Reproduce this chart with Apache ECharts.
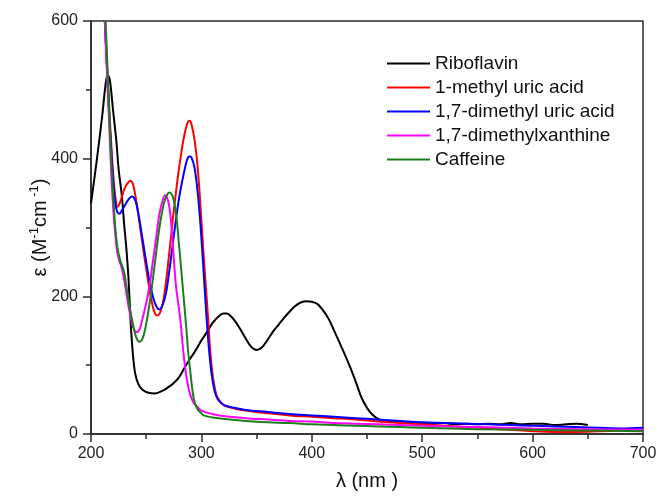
<!DOCTYPE html>
<html>
<head>
<meta charset="utf-8">
<script src="https://cdn.jsdelivr.net/npm/echarts@6/dist/echarts.min.js"></script>
<style>
  html, body { margin: 0; padding: 0; background: #fff; }
  #chart { width: 661px; height: 501px; }
</style>
</head>
<body>
<div id="chart"></div>
<script>
// UV-Vis absorption spectra: molar absorptivity vs wavelength

const seriesNames = ['Riboflavin', '1-methyl uric acid', '1,7-dimethyl uric acid', '1,7-dimethylxanthine', 'Caffeine'];
const seriesColors = ['#000000', '#ff0000', '#0000ff', '#ff00ff', '#1b7f1b'];

const xTicks = [200, 300, 400, 500, 600, 700];
const yTicks = [0, 200, 400, 600];

// Riboflavin
const riboWl  = [200, 205, 210, 213, 215, 217, 220, 223, 225, 228, 230, 232, 234, 236, 238, 240, 243, 247, 252, 258, 265, 270, 275, 280, 285, 290, 295, 300, 305, 310, 315, 320, 323, 326, 330, 335, 340, 345, 350, 355, 360, 365, 370, 375, 380, 385, 390, 395, 400, 405, 410, 415, 420, 425, 430, 435, 440, 445, 450, 455, 460, 465, 470, 480, 490, 500, 510, 520, 530, 540, 550, 560, 570, 580, 590, 600, 610, 620, 630, 640, 650];
const riboEps = [335, 395, 460, 505, 522, 515, 470, 425, 385, 345, 305, 270, 225, 160, 115, 88, 72, 64, 60, 59, 63, 68, 74, 83, 97, 110, 122, 136, 148, 161, 170, 175, 175, 172, 165, 153, 139, 127, 122, 126, 137, 149, 159, 169, 178, 186, 191, 193, 192, 189, 180, 168, 151, 133, 115, 96, 75, 53, 38, 28, 22, 19, 19, 18, 17, 16, 15, 16, 14, 15, 14, 15, 14, 16, 14, 15, 15, 13, 14, 15, 13];

// 1-methyl uric acid
const muaWl  = [205, 210, 212, 214, 216, 218, 220, 222, 224, 226, 228, 230, 233, 236, 238, 240, 243, 246, 250, 253, 256, 258, 260, 263, 266, 270, 274, 278, 281, 284, 287, 289, 291, 294, 297, 300, 302, 304, 306, 308, 310, 312, 314, 317, 320, 325, 330, 340, 360, 380, 400, 420, 440, 460, 480, 500, 520, 540, 560, 580, 600, 620, 640, 660, 680, 700];
const muaEps = [900, 700, 620, 550, 490, 430, 380, 345, 330, 335, 345, 355, 364, 368, 363, 348, 318, 283, 240, 210, 185, 175, 172, 178, 198, 250, 310, 365, 400, 430, 450, 455, 450, 425, 380, 310, 260, 215, 170, 120, 88, 68, 55, 47, 42, 39, 37, 34, 30, 27, 25, 23, 21, 18, 16, 14, 12, 10, 8, 6, 4, 3, 3, 4, 5, 6];

// 1,7-dimethyl uric acid
const dmuaWl  = [205, 210, 212, 214, 216, 218, 220, 222, 224, 226, 228, 231, 234, 237, 239, 241, 244, 247, 250, 253, 256, 259, 262, 265, 268, 272, 276, 280, 284, 287, 289, 291, 294, 297, 300, 303, 306, 309, 312, 315, 318, 322, 330, 340, 360, 380, 400, 420, 440, 460, 480, 500, 520, 540, 560, 580, 600, 620, 640, 660, 680, 700];
const dmuaEps = [900, 700, 620, 550, 480, 420, 370, 335, 322, 320, 325, 333, 341, 345, 343, 335, 310, 280, 250, 222, 200, 186, 181, 188, 205, 250, 300, 345, 378, 398, 403, 402, 385, 345, 285, 210, 140, 90, 62, 50, 45, 41, 38, 35, 32, 29, 27, 25, 23, 21, 19, 17, 16, 15, 14, 13, 12, 11, 10, 9, 8, 9];

// 1,7-dimethylxanthine
const dmxWl  = [205, 210, 212, 214, 216, 218, 220, 222, 224, 226, 228, 231, 234, 237, 239, 241, 244, 247, 250, 253, 256, 259, 262, 265, 267, 269, 271, 273, 275, 277, 279, 281, 283, 285, 287, 289, 291, 293, 296, 300, 310, 320, 340, 360, 380, 400, 420, 440, 460, 480, 500, 550, 600, 650, 700];
const dmxEps = [950, 720, 620, 540, 470, 390, 330, 290, 262, 250, 240, 215, 185, 162, 152, 148, 152, 170, 190, 215, 250, 285, 320, 340, 347, 343, 330, 300, 255, 215, 190, 165, 130, 100, 78, 62, 52, 45, 40, 34, 29, 26, 23, 21, 19, 18, 16, 15, 14, 13, 12, 10, 8, 7, 6];

// Caffeine
const cafWl  = [205, 210, 212, 214, 216, 218, 220, 222, 224, 226, 228, 230, 232, 235, 238, 241, 244, 247, 250, 254, 258, 262, 266, 269, 271, 274, 277, 280, 283, 286, 288, 290, 292, 294, 297, 300, 302, 310, 320, 340, 360, 380, 400, 420, 440, 460, 480, 500, 550, 600, 650, 700];
const cafEps = [950, 740, 650, 570, 490, 410, 350, 300, 270, 255, 245, 235, 215, 185, 160, 140, 134, 140, 160, 200, 250, 300, 335, 348, 351, 345, 320, 270, 215, 160, 120, 90, 62, 45, 35, 30, 27, 24, 22, 19, 17, 16, 14, 13, 12, 11, 10, 9, 7, 6, 5, 4];

const wlSets  = [riboWl, muaWl, dmuaWl, dmxWl, cafWl];
const epsSets = [riboEps, muaEps, dmuaEps, dmxEps, cafEps];

const chart = echarts.init(document.getElementById('chart'), null, { renderer: 'canvas' });

const axisColor = '#2b2b2b';
const font = '"Liberation Sans", Arial, sans-serif';

const series = seriesNames.map((name, i) => ({
  name: name,
  type: 'line',
  data: wlSets[i].map((w, k) => [w, epsSets[i][k]]),
  showSymbol: false,
  symbol: 'none',
  smooth: 0.35,
  clip: true,
  lineStyle: { color: seriesColors[i], width: 2 },
  itemStyle: { color: seriesColors[i] },
  z: 2 + i
}));

chart.setOption({
  animation: false,
  backgroundColor: '#ffffff',
  grid: {
    left: 91, top: 21, right: 18, bottom: 67,
    show: true, borderColor: axisColor, borderWidth: 1.5, backgroundColor: 'transparent'
  },
  legend: {
    orient: 'vertical',
    left: 387, top: 54,
    padding: 0,
    itemWidth: 43, itemHeight: 14, itemGap: 5,
    icon: 'path://M0,6 L43,6 L43,8 L0,8 Z',
    textStyle: { fontFamily: font, fontSize: 19, color: '#111' },
    data: seriesNames
  },
  xAxis: {
    type: 'value',
    min: xTicks[0], max: xTicks[xTicks.length - 1], interval: 100,
    name: 'λ (nm )',
    nameLocation: 'middle', nameGap: 37, nameMoveOverlap: false,
    nameTextStyle: { fontFamily: font, fontSize: 20, color: '#111' },
    axisLine: { show: true, lineStyle: { color: axisColor, width: 1.5 } },
    axisTick: { show: true, inside: false, length: 8, lineStyle: { color: axisColor, width: 1.5 } },
    minorTick: { show: true, splitNumber: 2, length: 5, lineStyle: { color: axisColor, width: 1.5 } },
    splitLine: { show: false },
    axisLabel: { fontFamily: font, fontSize: 16, color: '#222', margin: 12 }
  },
  yAxis: {
    type: 'value',
    min: yTicks[0], max: yTicks[yTicks.length - 1], interval: 200,
    name: '{t|ε (M}{s|-1}{t|cm}{s| -1}{t|)}',
    nameLocation: 'middle', nameGap: 39, nameMoveOverlap: false,
    nameTextStyle: {
      fontFamily: font, fontSize: 20, color: '#111',
      rich: {
        t: { fontFamily: font, fontSize: 20, color: '#111', lineHeight: 24 },
        s: { fontFamily: font, fontSize: 13, color: '#111', lineHeight: 24, verticalAlign: 'top', padding: [0, 0, 10, 0] }
      }
    },
    axisLine: { show: true, lineStyle: { color: axisColor, width: 1.5 } },
    axisTick: { show: true, inside: false, length: 8, lineStyle: { color: axisColor, width: 1.5 } },
    minorTick: { show: true, splitNumber: 2, length: 5, lineStyle: { color: axisColor, width: 1.5 } },
    splitLine: { show: false },
    axisLabel: { fontFamily: font, fontSize: 16, color: '#222', margin: 13 }
  },
  series: series
});
</script>
</body>
</html>
